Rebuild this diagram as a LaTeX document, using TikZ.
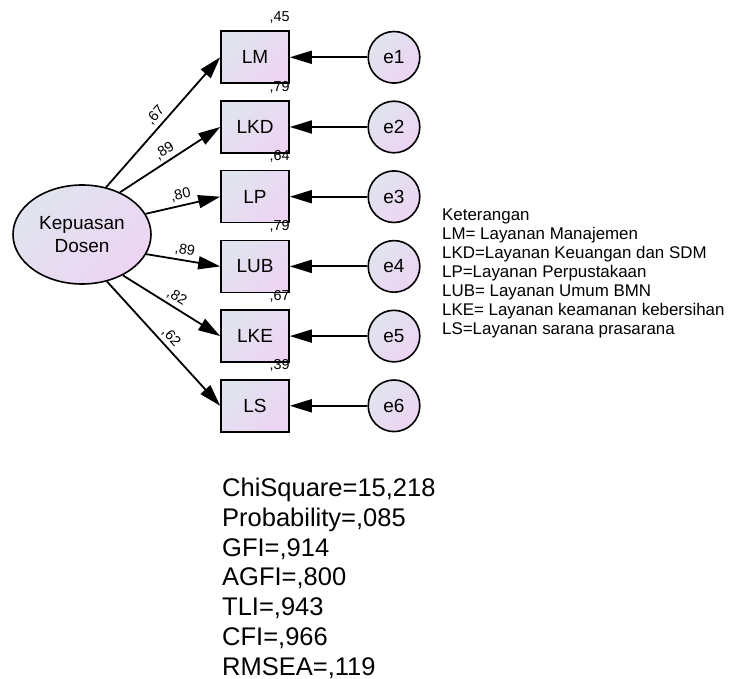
\documentclass[tikz,border=0pt]{standalone}
\usepackage{fontspec}
\setmainfont{Liberation Sans}
\usepackage{xcolor}
\usetikzlibrary{arrows.meta,shapes.geometric}
\definecolor{amosblue}{RGB}{224,228,238}
\definecolor{amospink}{RGB}{237,212,243}
\tikzset{
    shaded/.style={draw,line width=1.6pt,top color=amosblue,bottom color=amospink,shading angle=45},
    obs/.style={shaded,rectangle,minimum width=68pt,minimum height=52pt,inner sep=0pt,font=\fontsize{19}{23}\selectfont},
    lat/.style={shaded,ellipse,minimum width=138pt,minimum height=99pt,inner sep=0pt,align=center,font=\fontsize{19}{22.7}\selectfont},
    err/.style={shaded,circle,minimum size=51.6pt,inner sep=0pt,font=\fontsize{19}{23}\selectfont},
    path/.style={line width=1.8pt,-{Triangle[length=22pt,width=13pt]}},
    load/.style={midway,above,sloped,font=\fontsize{14.4}{16}\selectfont},
    rsq/.style={anchor=base east,inner sep=0pt,yshift=9pt,font=\fontsize{14.4}{16}\selectfont}
}
\begin{document}
\begin{tikzpicture}[x=1pt,y=-1pt]
        \useasboundingbox (0,0) rectangle (732,679);
        \node[lat] (kd) at (82,234.5) {Kepuasan\\Dosen};
        \node[obs] (lm) at (255,57.3) {LM};
        \node[obs] (lkd) at (255,127) {LKD};
        \node[obs] (lp) at (255,196.7) {LP};
        \node[obs] (lub) at (255,266.4) {LUB};
        \node[obs] (lke) at (255,336.1) {LKE};
        \node[obs] (ls) at (255,405.8) {LS};
        \node[err] (e1) at (394,57.3) {e1};
        \node[err] (e2) at (394,127) {e2};
        \node[err] (e3) at (394,196.7) {e3};
        \node[err] (e4) at (394,266.4) {e4};
        \node[err] (e5) at (394,336.1) {e5};
        \node[err] (e6) at (394,405.8) {e6};
        \draw[path] (kd.63) -- (lm.west) node[load] {,67};
        \draw[path] (kd.48) -- (lkd.west) node[load] {,89};
        \draw[path] (kd.18) -- (lp.west) node[load] {,80};
        \draw[path] (kd.-17) -- (lub.west) node[load] {,89};
        \draw[path] (kd.-45) -- (lke.west) node[load] {,82};
        \draw[path] (kd.-62) -- (ls.west) node[load] {,62};
        \draw[path] (e1) -- (lm);
        \draw[path] (e2) -- (lkd);
        \draw[path] (e3) -- (lp);
        \draw[path] (e4) -- (lub);
        \draw[path] (e5) -- (lke);
        \draw[path] (e6) -- (ls);
        \node[rsq] (r1) at (lm.north east) {,45};
        \node[rsq] (r2) at (lkd.north east) {,79};
        \node[rsq] (r3) at (lp.north east) {,64};
        \node[rsq] (r4) at (lub.north east) {,79};
        \node[rsq] (r5) at (lke.north east) {,67};
        \node[rsq] (r6) at (ls.north east) {,39};
        \node[anchor=base west,inner sep=0pt,align=left,font=\fontsize{16.9}{19}\selectfont] (ket) at (442,334.5) {Keterangan\\LM= Layanan Manajemen\\LKD=Layanan Keuangan dan SDM\\LP=Layanan Perpustakaan\\LUB= Layanan Umum BMN\\LKE= Layanan keamanan kebersihan\\LS=Layanan sarana prasarana};
        \node[anchor=base west,inner sep=0pt,align=left,font=\fontsize{25.5}{29.7}\selectfont] (fit) at (222,675) {ChiSquare=15,218\\Probability=,085\\GFI=,914\\AGFI=,800\\TLI=,943\\CFI=,966\\RMSEA=,119};
    \end{tikzpicture}
\end{document}
